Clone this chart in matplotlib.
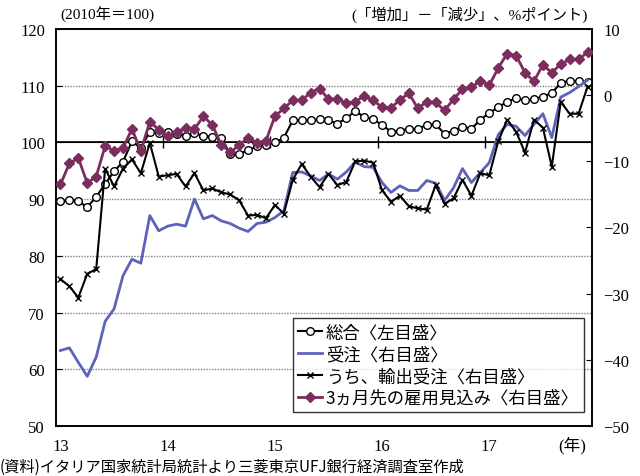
import matplotlib
matplotlib.use('Agg')
import matplotlib.pyplot as plt
import numpy as np

# Monthly data, Jan 2013 - Dec 2017
months = np.arange(60)

# 総合 (left axis, 2010=100)
composite = [89.6, 89.9, 89.6, 88.6, 90.4, 92.7, 94.9, 96.6, 100.2, 99.0,
             101.9, 101.6, 101.8, 101.5, 101.2, 101.6, 101.2, 100.9, 100.7, 98.0,
             98.0, 98.6, 99.3, 99.6, 100.0, 100.8, 103.9, 103.9, 103.9, 104.1,
             103.9, 103.3, 104.3, 105.5, 104.5, 104.1, 103.1, 101.9, 102.1, 102.4,
             102.4, 103.1, 103.2, 101.5, 102.1, 102.8, 102.4, 104.0, 105.2, 106.2,
             107.2, 107.8, 107.4, 107.6, 108.1, 108.7, 110.5, 110.9, 110.8, 110.6]

# 受注 (right axis)
orders = [-38.6, -38.2, -40.4, -42.5, -39.6, -34.2, -32.3, -27.3, -24.8, -25.4,
          -18.2, -20.5, -19.8, -19.5, -19.8, -15.7, -18.7, -18.2, -19.0, -19.4,
          -20.1, -20.6, -19.4, -19.2, -18.5, -17.5, -11.7, -11.6, -12.2, -12.9,
          -11.9, -12.7, -11.6, -10.1, -10.8, -10.9, -13.2, -14.7, -13.7, -14.4,
          -14.4, -12.9, -13.3, -15.9, -14.0, -11.1, -13.2, -11.7, -10.2, -6.0,
          -4.4, -4.7, -6.1, -4.4, -2.8, -6.4, -0.3, 0.4, 1.3, 2.3]

# うち、輸出受注 (right axis)
export_orders = [-27.8, -28.9, -30.6, -27.0, -26.3, -11.1, -13.8, -11.1, -9.7, -11.8,
                 -7.2, -12.3, -12.1, -11.9, -13.8, -11.8, -14.4, -14.1, -14.7, -15.0,
                 -15.9, -18.2, -18.1, -18.6, -16.6, -17.9, -12.8, -10.4, -12.3, -13.9,
                 -11.9, -13.6, -13.1, -10.0, -9.9, -10.2, -14.4, -16.1, -15.2, -16.8,
                 -17.1, -17.3, -13.6, -16.4, -15.6, -12.8, -15.2, -11.8, -12.1, -7.0,
                 -3.7, -5.5, -8.7, -3.7, -4.9, -10.8, -1.0, -2.8, -2.8, 1.3]

# 3ヵ月先の雇用見込み (right axis)
employment = [-13.5, -10.3, -9.5, -13.3, -12.3, -7.7, -8.4, -8.0, -5.1, -8.4,
              -4.0, -5.2, -6.2, -5.5, -5.0, -5.1, -3.2, -4.5, -7.5, -8.6,
              -7.6, -6.4, -7.2, -6.9, -3.2, -2.0, -0.8, -0.8, 0.4, 1.0,
              -0.6, -0.6, -1.2, -1.0, -0.1, -0.8, -1.8, -1.9, -0.7, 0.3,
              -2.0, -1.0, -1.1, -2.3, -0.6, 0.9, 1.2, 2.2, 1.5, 4.1,
              6.3, 6.0, 3.4, 2.1, 4.6, 3.4, 4.7, 5.4, 5.4, 6.5]

year_pos = [0, 12, 24, 36, 48]
year_labels = ['13', '14', '15', '16', '17']
left_ticks = [50, 60, 70, 80, 90, 100, 110, 120]
right_ticks = [-50, -40, -30, -20, -10, 0, 10]

serif = ['Liberation Serif', 'Noto Sans CJK JP']
jp = ['Noto Sans CJK JP', 'Liberation Serif']
plt.rcParams['font.family'] = serif

fig = plt.figure(figsize=(6.4, 4.77), dpi=100)
ax = fig.add_axes([0.0875, 0.105, 0.8375, 0.832])
ax2 = ax.twinx()

# left axis
ax.set_xlim(-0.5, 59.5)
ax.set_ylim(50, 120)
ax.set_yticks(left_ticks)
ax.tick_params(axis='y', direction='in', length=4, labelsize=12, pad=8)
for v in [60, 70, 80, 90, 110]:
    ax.axhline(v, color='#808080', lw=1, ls=(0, (1, 1)), zorder=0)
ax.axhline(100, color='black', lw=1.2, zorder=1)
ax.set_xticks(year_pos)
ax.set_xticklabels(year_labels)
ax.tick_params(axis='x', length=0, labelsize=12, pad=9)

# year separators on the 100 line
sec = ax.secondary_xaxis((100 - 50) / 70.0)
sec.set_xticks([11.5, 23.5, 35.5, 47.5])
sec.set_xticklabels([])
sec.tick_params(direction='inout', length=8, width=1, color='black')
sec.spines['bottom'].set_visible(False)

# right axis
ax2.set_ylim(-50, 10)
ax2.set_yticks(right_ticks)
ax2.tick_params(axis='y', direction='in', length=4, labelsize=12, pad=8)

for a in (ax, ax2):
    for s in a.spines.values():
        s.set_linewidth(1.2)

l1, = ax.plot(months, composite, color='black', lw=1.5, marker='o', ms=5.5,
              mfc='white', mec='black', mew=1, label='総合〈左目盛〉', zorder=4)
l2, = ax2.plot(months, orders, color='#5D63B9', lw=2, label='受注〈右目盛〉', zorder=2)
l3, = ax2.plot(months, export_orders, color='black', lw=1.5, marker='x', ms=4,
               mew=1, label='うち、輸出受注〈右目盛〉', zorder=3)
l4, = ax2.plot(months, employment, color='#7B2D5E', lw=2, marker='D', ms=5,
               label='3ヵ月先の雇用見込み〈右目盛〉', zorder=4)

leg = ax2.legend(handles=[l1, l2, l3, l4], loc='lower right',
                 bbox_to_anchor=(0.985, 0.035), frameon=True, fancybox=False,
                 edgecolor='black', handlelength=1.4, handletextpad=0.2,
                 borderpad=0.3, labelspacing=0.22, borderaxespad=0,
                 prop={'family': jp, 'size': 12.5})
leg.get_frame().set_linewidth(1)

fig.text(0.094, 0.952, '(2010年＝100)', fontsize=11, family=serif, ha='left', va='bottom')
fig.text(0.918, 0.952, '(「増加」－「減少」、%ポイント)', fontsize=11, family=serif,
         ha='right', va='bottom')
fig.text(0.894, 0.066, '(年)', fontsize=12, family=serif, ha='center', va='center')
fig.text(0.0, 0.003, '(資料)イタリア国家統計局統計より三菱東京UFJ銀行経済調査室作成',
         fontsize=11, family=jp, ha='left', va='bottom')

fig.savefig('out.png', dpi=100)
